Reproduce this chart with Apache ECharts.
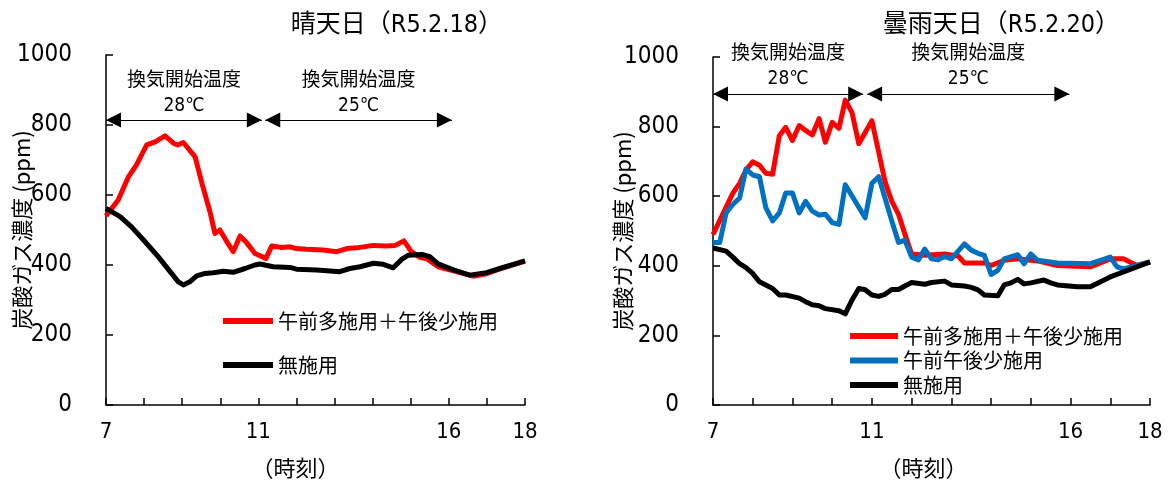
<!DOCTYPE html>
<html>
<head>
<meta charset="utf-8">
<script src="https://cdn.jsdelivr.net/npm/echarts@6/dist/echarts.min.js"></script>
<style>
  html, body { margin: 0; padding: 0; background: #fff; }
  #chart { width: 1168px; height: 484px; }
</style>
</head>
<body>
<div id="chart"></div>
<script>
// ---- 晴天日 (R5.2.18): time of day (h) and CO2 concentration (ppm) ----
const sunnyHighTime = [7.0, 7.32, 7.59, 7.8, 8.07, 8.29, 8.55, 8.77, 8.88, 9.03, 9.34, 9.53, 9.73, 9.86, 9.99,
  10.17, 10.34, 10.52, 10.69, 10.91, 11.2, 11.35, 11.61, 11.83, 12.0, 12.27, 12.7, 13.06, 13.32, 13.58,
  14.02, 14.37, 14.59, 14.82, 15.02, 15.24, 15.42, 15.72, 16.12, 16.64, 16.99, 17.34, 18.0];
const sunnyHigh = [540, 586, 652, 686, 743, 752, 769, 748, 743, 750, 709, 629, 552, 490, 500,
  467, 438, 483, 464, 433, 419, 454, 450, 452, 447, 445, 443, 438, 447, 449,
  456, 454, 456, 469, 438, 422, 418, 395, 383, 368, 375, 389, 411];

const sunnyNoneTime = [7.0, 7.37, 7.67, 8.02, 8.37, 8.72, 8.9, 9.03, 9.2, 9.38, 9.6, 9.82, 10.08, 10.34, 10.65,
  10.91, 11.04, 11.39, 11.83, 12.0, 12.53, 13.14, 13.4, 13.67, 14.02, 14.28, 14.54, 14.76, 14.94, 15.29,
  15.5, 15.72, 16.12, 16.55, 16.99, 17.34, 18.0];
const sunnyNone = [562, 538, 509, 467, 424, 376, 352, 343, 352, 369, 376, 378, 382, 379, 390,
  400, 403, 395, 393, 388, 386, 381, 390, 395, 405, 402, 392, 416, 428, 430,
  424, 403, 386, 371, 378, 390, 412];

// ---- 曇雨天日 (R5.2.20) ----
const rainyHighTime = [7.0, 7.5, 7.67, 7.83, 8.0, 8.17, 8.33, 8.5, 8.67, 8.83, 9.0, 9.17, 9.33, 9.5, 9.67,
  9.83, 10.0, 10.17, 10.33, 10.5, 10.67, 11.0, 11.17, 11.33, 11.5, 11.67, 11.83, 12.0, 12.33, 12.83,
  13.17, 13.33, 13.83, 14.0, 14.33, 14.67, 15.17, 15.67, 16.5, 17.0, 17.33, 17.67, 18.0];
const rainyHigh = [490, 609, 637, 675, 699, 689, 666, 663, 774, 798, 760, 803, 789, 776, 823,
  755, 812, 795, 876, 840, 751, 817, 727, 642, 586, 548, 491, 434, 430, 434,
  428, 408, 408, 401, 416, 420, 414, 401, 397, 420, 420, 401, 411];

const rainyLowTime = [7.0, 7.17, 7.33, 7.5, 7.67, 7.83, 8.0, 8.17, 8.33, 8.5, 8.67, 8.83, 9.0, 9.17, 9.33,
  9.5, 9.67, 9.83, 10.0, 10.17, 10.33, 10.83, 11.0, 11.17, 11.33, 11.5, 11.67, 11.83, 12.0, 12.17,
  12.33, 12.5, 12.67, 12.83, 13.0, 13.33, 13.5, 13.67, 13.83, 14.0, 14.17, 14.33, 14.67, 14.83, 15.0,
  15.17, 15.67, 16.5, 17.0, 17.17, 17.33, 18.0];
const rainyLow = [467, 467, 552, 576, 595, 678, 661, 656, 567, 529, 552, 609, 609, 552, 585,
  557, 546, 548, 524, 519, 633, 538, 637, 656, 595, 529, 467, 474, 425, 417,
  448, 420, 417, 427, 420, 463, 445, 436, 430, 375, 387, 420, 432, 406, 434,
  416, 408, 406, 425, 397, 391, 411];

const rainyNoneTime = [7.0, 7.33, 7.5, 7.67, 7.83, 8.0, 8.17, 8.5, 8.67, 8.83, 9.17, 9.33, 9.5, 9.67, 9.83,
  10.17, 10.33, 10.5, 10.67, 10.83, 11.0, 11.17, 11.33, 11.5, 11.67, 11.83, 12.0, 12.33, 12.5, 12.83,
  13.0, 13.33, 13.5, 13.67, 13.83, 14.17, 14.33, 14.5, 14.67, 14.83, 15.0, 15.33, 15.5, 15.67, 16.17,
  16.5, 17.0, 18.0];
const rainyNone = [451, 442, 425, 406, 395, 378, 354, 335, 316, 316, 307, 297, 288, 285, 277,
  271, 262, 302, 335, 331, 316, 312, 318, 332, 332, 342, 352, 347, 352, 356,
  345, 342, 338, 331, 316, 314, 345, 351, 361, 348, 351, 359, 351, 345, 340,
  340, 368, 411];

// axis ticks / labels
const hourLabels = [7, 11, 16, 18];
const seriesNames = ['午前多施用＋午後少施用', '午前午後少施用', '無施用'];
const ventName = '換気開始温度';
// ventilation periods (arrow ends, in hours) and the arrow level (ppm)
const sunnyVent = [[7.0, 11.09, '28℃'], [11.18, 16.08, '25℃']];
const sunnyVentLevel = 814;
const rainyVent = [[7.0, 10.78, '28℃'], [10.88, 15.97, '25℃']];
const rainyVentLevel = 894;

const pairs = (t, v) => t.map((x, i) => [x, v[i]]);

const CJK = "'Noto Sans CJK JP', sans-serif";
const NUM = "'DejaVu Sans Condensed', 'Liberation Sans', 'Noto Sans CJK JP', sans-serif";
const RED = '#FF0000', BLUE = '#0070C0', BLACK = '#000000';

function xAxisFor(gridIndex, namePad) {
  return {
    type: 'value', gridIndex, min: 7, max: 18, interval: 1,
    name: '（時刻）', nameLocation: 'middle', nameGap: 52, nameMoveOverlap: false,
    nameTextStyle: { fontFamily: CJK, fontSize: 22, color: BLACK, padding: [0, namePad, 0, 0] },
    axisLine: { show: true, onZero: false, lineStyle: { color: BLACK, width: 1.5 } },
    axisTick: { show: true, inside: true, length: 7, lineStyle: { color: BLACK, width: 1.5 } },
    axisLabel: {
      show: true, margin: 16, fontFamily: NUM, fontSize: 22, color: BLACK,
      showMinLabel: true, showMaxLabel: true,
      formatter: v => hourLabels.includes(v) ? String(v) : ''
    },
    splitLine: { show: false }
  };
}
function yAxisFor(gridIndex, gap, labelMargin) {
  return {
    type: 'value', gridIndex, min: 0, max: 1000, interval: 200,
    name: '炭酸ガス濃度 (ppm)', nameLocation: 'middle', nameGap: gap, nameRotate: 90, nameMoveOverlap: false,
    nameTextStyle: { fontFamily: CJK, fontSize: 22, color: BLACK },
    axisLine: { show: true, onZero: false, lineStyle: { color: BLACK, width: 1.5 } },
    axisTick: { show: true, inside: true, length: 7, lineStyle: { color: BLACK, width: 1.5 } },
    axisLabel: { margin: labelMargin, fontFamily: NUM, fontSize: 24, color: BLACK, formatter: v => String(v) },
    splitLine: { show: false }
  };
}
function ventMarks(periods, level) {
  return {
    silent: true,
    symbol: ['triangle', 'triangle'],
    symbolSize: [15, 15],
    // pull each arrowhead inward so its tip sits on the period end
    symbolOffset: [[0, '50%'], [0, '50%']],
    lineStyle: { color: BLACK, width: 1, type: 'solid' },
    label: {
      show: true, position: 'insideMiddleTop', distance: 2,
      fontFamily: NUM, fontSize: 19, lineHeight: 25, color: BLACK,
      formatter: p => ventName + '\n' + p.name
    },
    emphasis: { disabled: true },
    data: periods.map(p => [{ coord: [p[0], level], name: p[2] }, { coord: [p[1], level] }])
  };
}
function line(name, color, xi, data, extra) {
  return Object.assign({
    name, type: 'line', xAxisIndex: xi, yAxisIndex: xi, data,
    showSymbol: false, symbol: 'none', animation: false,
    lineStyle: { color, width: 5, join: 'round' }, itemStyle: { color },
    emphasis: { disabled: true }
  }, extra || {});
}

const chart = echarts.init(document.getElementById('chart'), null, { renderer: 'canvas' });
chart.setOption({
  backgroundColor: '#fff',
  animation: false,
  textStyle: { fontFamily: CJK },
  title: [
    { text: '晴天日（R5.2.18）', right: 660, top: 8,
      textStyle: { fontFamily: NUM, fontSize: 25, fontWeight: 'normal', color: BLACK } },
    { text: '曇雨天日（R5.2.20）', right: 43, top: 8,
      textStyle: { fontFamily: NUM, fontSize: 25, fontWeight: 'normal', color: BLACK } }
  ],
  grid: [
    { left: 106, top: 55, width: 419, height: 350 },
    { left: 713, top: 57, width: 437, height: 353 }
  ],
  xAxis: [xAxisFor(0, 40), xAxisFor(1, 16)],
  yAxis: [yAxisFor(0, 73, 34), yAxisFor(1, 79, 34)],
  legend: [
    { data: [seriesNames[0], seriesNames[2]], orient: 'vertical', left: 218, top: 305,
      icon: 'rect', itemWidth: 50, itemHeight: 6, itemGap: 22, selectedMode: false,
      textStyle: { fontFamily: CJK, fontSize: 20, lineHeight: 22, color: BLACK } },
    { data: seriesNames, orient: 'vertical', left: 845, top: 320,
      icon: 'rect', itemWidth: 48, itemHeight: 6, itemGap: 2.5, selectedMode: false,
      textStyle: { fontFamily: CJK, fontSize: 20, lineHeight: 22, color: BLACK } }
  ],
  series: [
    line(seriesNames[0], RED, 0, pairs(sunnyHighTime, sunnyHigh), { markLine: ventMarks(sunnyVent, sunnyVentLevel) }),
    line(seriesNames[2], BLACK, 0, pairs(sunnyNoneTime, sunnyNone)),
    line(seriesNames[0], RED, 1, pairs(rainyHighTime, rainyHigh), { markLine: ventMarks(rainyVent, rainyVentLevel) }),
    line(seriesNames[1], BLUE, 1, pairs(rainyLowTime, rainyLow)),
    line(seriesNames[2], BLACK, 1, pairs(rainyNoneTime, rainyNone))
  ]
});
</script>
</body>
</html>
